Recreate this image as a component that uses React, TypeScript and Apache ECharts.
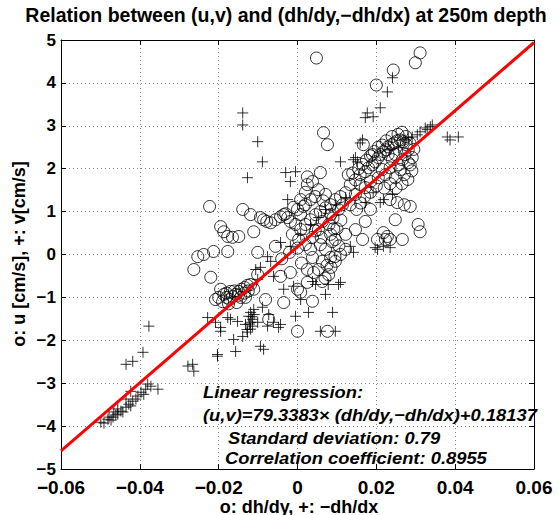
import React, { useEffect, useRef } from "react";
import * as echarts from "echarts";

// o: u vs dh/dy
const circlePoints: [number, number][] = [
  [0.0048, 4.58], [0.0311, 4.70], [0.0299, 4.47], [0.0243, 4.30], [0.0200, 3.95],
  [0.0066, 2.84], [0.0076, 2.56], [0.0167, 2.56],
  [0.0134, 1.63], [0.0147, 1.74], [0.0159, 1.86], [0.0172, 1.93], [0.0180, 2.02],
  [0.0190, 2.09], [0.0197, 2.16], [0.0205, 2.26], [0.0210, 2.33], [0.0218, 2.40],
  [0.0225, 2.44], [0.0230, 2.51], [0.0238, 2.56], [0.0246, 2.60], [0.0253, 2.65],
  [0.0261, 2.67], [0.0268, 2.63], [0.0276, 2.56], [0.0281, 2.44], [0.0273, 2.33],
  [0.0266, 2.21], [0.0256, 2.09], [0.0261, 1.98], [0.0271, 1.86], [0.0248, 1.79],
  [0.0235, 2.02], [0.0223, 1.86], [0.0215, 1.98], [0.0205, 1.79], [0.0185, 1.70],
  [0.0172, 1.56], [0.0159, 1.63], [0.0286, 2.09], [0.0291, 2.26], [0.0248, 2.33],
  [0.0241, 2.21], [0.0230, 2.33], [0.0190, 2.33], [0.0281, 2.14],
  [0.0140, 1.90], [0.0155, 2.00], [0.0165, 2.10], [0.0175, 2.20], [0.0185, 2.30],
  [0.0195, 2.40], [0.0205, 2.50], [0.0215, 2.55], [0.0225, 2.65], [0.0240, 2.75],
  [0.0255, 2.80], [0.0265, 2.85], [0.0275, 2.75], [0.0285, 2.60], [0.0295, 2.45],
  [0.0290, 1.95], [0.0280, 1.75], [0.0265, 1.65], [0.0250, 1.55], [0.0235, 1.65],
  [0.0220, 1.55], [0.0200, 1.60], [0.0185, 1.45], [0.0170, 1.35], [0.0160, 1.20],
  [0.0150, 1.05],
  [0.0008, 0.58], [0.0020, 0.70], [0.0033, 0.81], [0.0046, 0.93], [0.0058, 1.00],
  [0.0071, 1.09], [0.0084, 1.16], [0.0096, 1.28], [0.0109, 1.35], [0.0122, 1.44],
  [0.0114, 1.16], [0.0104, 1.05], [0.0084, 0.93], [0.0063, 0.77], [0.0053, 0.58],
  [0.0038, 0.40], [0.0020, 0.23], [0.0003, 0.35], [-0.0013, 0.47], [-0.0005, 0.70],
  [0.0008, 0.93], [0.0020, 1.16], [0.0033, 1.28], [0.0025, 1.63], [0.0038, 1.70],
  [0.0053, 1.51], [0.0071, 1.40], [0.0129, 1.86], [0.0147, 1.40], [0.0134, 1.16],
  [0.0025, 1.81], [0.0058, 1.91], [0.0008, 1.28], [0.0000, 1.05], [0.0015, 1.12],
  [0.0071, 0.12], [0.0084, -0.07], [0.0096, -0.16], [0.0109, 0.00], [0.0122, 0.12],
  [0.0063, -0.16], [0.0053, -0.35], [0.0079, -0.47], [0.0038, -0.07], [0.0058, 0.23],
  [0.0096, 0.35], [0.0122, 0.47], [0.0033, 0.12], [0.0084, 0.47],
  [0.0080, 0.70], [0.0088, 0.30], [0.0075, -0.25], [0.0092, 0.60],
  [0.0090, 0.85], [0.0100, 0.60], [0.0105, 0.20], [0.0095, -0.05], [0.0085, -0.30],
  [0.0070, -0.55], [0.0060, 0.40], [0.0045, 0.55], [0.0110, 0.80], [0.0065, 1.25],
  [0.0045, 1.35], [0.0020, 1.45], [-0.0010, 1.10], [-0.0030, 0.95], [0.0000, 0.15],
  [-0.0020, 0.05], [-0.0040, -0.10], [0.0010, -0.20],
  [-0.0094, 0.86], [-0.0086, 0.81], [-0.0078, 0.77], [-0.0068, 0.74], [-0.0056, 0.81],
  [-0.0043, 0.88], [-0.0035, 0.93], [-0.0025, 0.86], [-0.0018, 0.77], [-0.0119, 0.93],
  [-0.0111, 0.53], [-0.0139, 1.05], [-0.0149, 0.42], [-0.0165, 0.40], [-0.0177, 0.42],
  [-0.0187, 0.53], [-0.0195, 0.65], [-0.0223, 1.12], [-0.0056, 0.19], [-0.0101, 0.05],
  [-0.0177, 0.07], [-0.0213, 0.07], [-0.0238, 0.00], [-0.0253, -0.05], [-0.0263, -0.35],
  [-0.0220, -0.53],
  [-0.0195, -0.81], [-0.0187, -0.93], [-0.0180, -1.00], [-0.0172, -1.05], [-0.0165, -0.98],
  [-0.0157, -0.93], [-0.0149, -0.86], [-0.0142, -0.81], [-0.0134, -0.77], [-0.0127, -0.72],
  [-0.0119, -0.70], [-0.0200, -1.00], [-0.0208, -1.05], [-0.0170, -0.86], [-0.0144, -1.00],
  [-0.0154, -1.12], [-0.0132, -1.00], [-0.0111, -0.81],
  [-0.0180, -0.90], [-0.0160, -0.85], [-0.0150, -0.95], [-0.0190, -1.10], [-0.0175, -1.15],
  [-0.0125, -0.85], [-0.0135, -0.90],
  [-0.0043, -0.51], [-0.0018, -0.42], [0.0000, -0.81], [0.0008, -0.88], [0.0025, -0.65],
  [0.0038, -1.09], [-0.0035, -1.12], [0.0000, -1.79], [0.0076, -1.79], [0.0063, -0.63],
  [0.0025, -0.35], [0.0041, -0.42], [-0.0101, -0.47], [-0.0073, -1.51], [-0.0081, -1.05],
  [0.0235, 1.28], [0.0253, 1.21], [0.0271, 1.16], [0.0286, 1.12], [0.0248, 0.81],
  [0.0306, 0.70], [0.0311, 0.53], [0.0266, 0.35], [0.0218, 0.51], [0.0228, 0.42],
  [0.0235, 0.35], [0.0223, 0.35], [0.0165, 0.35], [0.0172, 0.77], [0.0203, 0.35],
  [0.0147, 0.58], [0.0185, 1.05],
];

// +: v vs -dh/dx
const plusPoints: [number, number][] = [
  [-0.0499, -3.91], [-0.0491, -3.93], [-0.0481, -3.84], [-0.0473, -3.86], [-0.0468, -3.79],
  [-0.0461, -3.74], [-0.0456, -3.72], [-0.0448, -3.65], [-0.0443, -3.67], [-0.0435, -3.56],
  [-0.0428, -3.49], [-0.0423, -3.53], [-0.0418, -3.42], [-0.0410, -3.37], [-0.0405, -3.30],
  [-0.0397, -3.21], [-0.0390, -3.26], [-0.0385, -3.14], [-0.0372, -3.07], [-0.0354, -3.14],
  [-0.0435, -3.37], [-0.0423, -3.19], [-0.0456, -3.60], [-0.0466, -3.67], [-0.0478, -3.79],
  [-0.0380, -3.02],
  [-0.0435, -2.56], [-0.0418, -2.49], [-0.0392, -2.28], [-0.0377, -1.67],
  [-0.0278, -2.60], [-0.0266, -2.56], [-0.0263, -2.72], [-0.0203, -2.33], [-0.0157, -2.26],
  [-0.0094, -2.14], [-0.0086, -2.21], [-0.0203, -2.37],
  [-0.0162, -1.98], [-0.0139, -1.91], [-0.0127, -1.81], [-0.0119, -1.74], [-0.0114, -1.67],
  [-0.0119, -1.58], [-0.0114, -1.51], [-0.0124, -1.44], [-0.0119, -1.35], [-0.0111, -1.28],
  [-0.0101, -1.58], [-0.0132, -1.63], [-0.0195, -1.70], [-0.0195, -1.79], [-0.0170, -1.51],
  [-0.0152, -1.56], [-0.0177, -1.47], [-0.0208, -1.58], [-0.0228, -1.47], [-0.0089, -1.23],
  [-0.0073, -1.40], [-0.0061, -1.58], [-0.0048, -1.70], [-0.0043, -1.63], [-0.0076, -1.67],
  [-0.0005, -1.44], [0.0028, -1.35], [0.0071, -0.93], [0.0078, -0.70], [0.0058, -1.79],
  [0.0089, -1.35], [0.0096, -1.79], [0.0109, -0.65], [0.0008, -1.05], [-0.0010, -0.74],
  [-0.0035, -0.81], [0.0104, -0.70], [0.0038, -0.63], [0.0046, -0.70],
  [-0.0116, -1.45], [-0.0122, -1.62], [-0.0110, -1.40], [-0.0128, -1.75],
  [-0.0139, 3.30], [-0.0139, 3.02], [-0.0101, 2.63], [-0.0089, 2.16], [-0.0127, 1.79],
  [-0.0030, 1.91], [-0.0005, 1.93], [-0.0018, 1.70], [-0.0025, 1.28], [0.0109, 2.16],
  [0.0142, 2.21], [0.0152, 2.16], [0.0159, 2.60], [0.0177, 3.30], [0.0192, 3.21],
  [0.0210, 3.42], [0.0241, 4.12], [0.0228, 3.79], [0.0172, 3.19], [0.0165, 2.67],
  [0.0147, 2.26], [0.0337, 2.98], [0.0329, 2.91], [0.0304, 2.79], [0.0281, 2.72],
  [0.0380, 2.74], [0.0387, 2.67], [0.0408, 2.74],
  [0.0172, 1.21], [0.0210, 1.21], [0.0218, 1.28], [0.0241, 1.40], [0.0192, 1.44],
  [0.0203, 0.12], [0.0235, 0.16], [0.0218, 0.19], [0.0134, 0.19], [0.0142, 0.05],
  [0.0197, 0.16],
  [-0.0043, 0.28], [-0.0018, 0.19], [-0.0076, -0.05], [-0.0094, -0.30], [-0.0101, -0.58],
  [-0.0061, -0.51],
  [0.0008, 0.47], [0.0033, 0.70], [0.0053, 0.86], [0.0071, 1.05], [0.0096, 1.16],
  [0.0122, 1.33], [0.0235, 2.44], [0.0256, 2.49], [0.0273, 2.67], [0.0291, 2.74],
  [0.0311, 2.86], [0.0324, 2.95], [0.0342, 3.02], [-0.0068, -0.16], [-0.0106, -0.35],
];

const slope = 79.3383;
const intercept = 0.18137;
const regressionX = [-0.06, 0.06];

const titleText = "Relation between (u,v) and (dh/dy,\u2212dh/dx) at 250m depth";
const xAxisName = "o: dh/dy, +: \u2212dh/dx";
const yAxisName = "o: u [cm/s], +: v[cm/s]";
const annotationLines = [
  "Linear regression:",
  "(u,v)=79.3383\u00d7 (dh/dy,\u2212dh/dx)+0.18137",
  "Standard deviation: 0.79",
  "Correlation coefficient: 0.8955",
];

const FONT = "'Liberation Sans', Arial, Helvetica, sans-serif";
const minusFmt = (v: number) => String(v).replace("-", "\u2212");

export default function App() {
  const ref = useRef<HTMLDivElement>(null);
  useEffect(() => {
    if (!ref.current) return;
    const chart = echarts.init(ref.current, undefined, { renderer: "svg" });
    const axisCommon = {
      axisLine: { show: true, onZero: false, lineStyle: { color: "#000", width: 1 } },
      axisTick: { show: true, inside: true, length: 5, lineStyle: { color: "#000" } },
    };
    chart.setOption({
      animation: false,
      backgroundColor: "#fff",
      grid: { left: 61, right: 25, top: 40, bottom: 46, containLabel: false },
      xAxis: [
        {
          type: "value", min: -0.06, max: 0.06, interval: 0.02, position: "bottom",
          ...axisCommon,
          axisLabel: {
            formatter: minusFmt, color: "#000", fontFamily: FONT, fontWeight: "bold",
            fontSize: 19, lineHeight: 19, margin: 9,
          },
          splitLine: { show: true, lineStyle: { color: "#888", type: [1, 3], width: 1 } },
        },
        {
          type: "value", min: -0.06, max: 0.06, interval: 0.02, position: "top",
          ...axisCommon, axisLabel: { show: false }, splitLine: { show: false },
        },
      ],
      yAxis: [
        {
          type: "value", min: -5, max: 5, interval: 1, position: "left",
          ...axisCommon,
          axisLabel: {
            formatter: minusFmt, color: "#000", fontFamily: FONT, fontWeight: "bold",
            fontSize: 17, lineHeight: 15, margin: 5,
          },
          splitLine: { show: true, lineStyle: { color: "#888", type: [1, 3], width: 1 } },
        },
        {
          type: "value", min: -5, max: 5, interval: 1, position: "right",
          ...axisCommon, axisLabel: { show: false }, splitLine: { show: false },
        },
      ],
      series: [
        {
          type: "scatter", data: circlePoints, symbol: "circle", symbolSize: 12,
          itemStyle: { color: "rgba(0,0,0,0)", borderColor: "#000", borderWidth: 1 },
          z: 2,
        },
        {
          type: "scatter", data: plusPoints,
          symbol: "path://M5,0 L5,10 M0,5 L10,5", symbolSize: 11,
          itemStyle: { color: "rgba(0,0,0,0)", borderColor: "#000", borderWidth: 1 },
          z: 3,
        },
        {
          type: "line", data: regressionX.map((x) => [x, slope * x + intercept]),
          symbol: "none", lineStyle: { color: "#ff0000", width: 3 }, z: 5,
        },
      ],
      graphic: [
        {
          type: "text", x: 286, y: 15,
          style: {
            text: titleText, fill: "#000", font: `bold 19.5px ${FONT}`,
            textAlign: "center", textVerticalAlign: "middle",
          },
        },
        {
          type: "text", x: 299, y: 506.5,
          style: {
            text: xAxisName, fill: "#000", font: `bold 18px ${FONT}`,
            textAlign: "center", textVerticalAlign: "middle",
          },
        },
        {
          type: "text", x: 19, y: 254, rotation: Math.PI / 2,
          style: {
            text: yAxisName, fill: "#000", font: `bold 18px ${FONT}`,
            textAlign: "center", textVerticalAlign: "middle",
          },
        },
        ...annotationLines.map((t, i) => ({
          type: "text",
          x: i < 2 ? 203 : i === 2 ? 228 : 225,
          y: [392, 415, 438, 458][i],
          z: 10,
          scaleX: 1.08,
          style: {
            text: t, fill: "#000", font: `italic bold 17px ${FONT}`,
            textVerticalAlign: "middle",
          },
        })),
      ],
    });
    return () => chart.dispose();
  }, []);
  return (
    <div
      ref={ref}
      style={{ position: "fixed", left: 0, top: 0, width: 559, height: 515 }}
    />
  );
}
